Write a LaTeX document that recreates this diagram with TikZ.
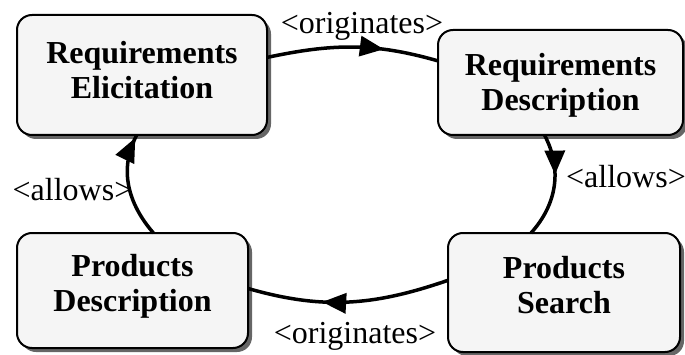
\documentclass[tikz,border=0pt]{standalone}
\usepackage{fontspec}
\setmainfont{Liberation Serif}
\usetikzlibrary{arrows.meta,shadows,decorations.markings}

\tikzset{
  stagebox/.style={rectangle, rounded corners=15pt, draw=black, line width=2pt,
    fill=black!4, inner sep=0pt, outer sep=0pt,
    drop shadow={shadow xshift=4pt, shadow yshift=-4pt, fill=black!60, opacity=1}},
  stagetext/.style={align=center, inner sep=0pt,
    font=\fontsize{32pt}{35pt}\selectfont\bfseries},
  flowlabel/.style={anchor=base, inner sep=0pt,
    font=\fontsize{32pt}{35pt}\selectfont},
  flow/.style={line width=3.5pt, postaction={decorate},
    decoration={markings, mark=at position #1 with
      {\arrow{Triangle[length=24pt,width=20pt]}}}}
}

\begin{document}
\begin{tikzpicture}[x=1pt,y=1pt]
  \useasboundingbox (0,0) rectangle (685,354);

  % the four stages of the cycle
  \node[stagebox, minimum width=250pt, minimum height=120pt] (elic) at (142,279) {};
  \node[stagebox, minimum width=245pt, minimum height=105pt] (rdesc) at (560.5,271.5) {};
  \node[stagebox, minimum width=232pt, minimum height=119pt] (search) at (564,61.5) {};
  \node[stagebox, minimum width=231pt, minimum height=115pt] (pdesc) at (132.5,63.5) {};

  \node[stagetext] (elictext) at ([yshift=5pt]elic.center) {Requirements\\Elicitation};
  \node[stagetext] (rdesctext) at ([yshift=-3pt]rdesc.center) {Requirements\\Description};
  \node[stagetext] (searchtext) at ([yshift=7pt]search.center) {Products\\Search};
  \node[stagetext] (pdesctext) at ([yshift=4pt]pdesc.center) {Products\\Description};

  % relations between the stages
  \draw[flow=0.68] (elic.8) to[out=12, in=164] (rdesc.170.5);
  \draw[flow=0.39] (rdesc.253.6) to[out=-62, in=48] (search.119.7);
  \draw[flow=0.63] (search.174.8) to[out=-161, in=-16] (pdesc.1);
  \draw[flow=0.97] (pdesc.70.4) to[out=131, in=-118] (elic.265);

  % relation labels
  \node[flowlabel] (lorig1) at (362,320) {<originates>};
  \node[flowlabel] (lallow1) at (626,167) {<allows>};
  \node[flowlabel] (lorig2) at (355,11) {<originates>};
  \node[flowlabel] (lallow2) at (72.5,154) {<allows>};
\end{tikzpicture}
\end{document}
